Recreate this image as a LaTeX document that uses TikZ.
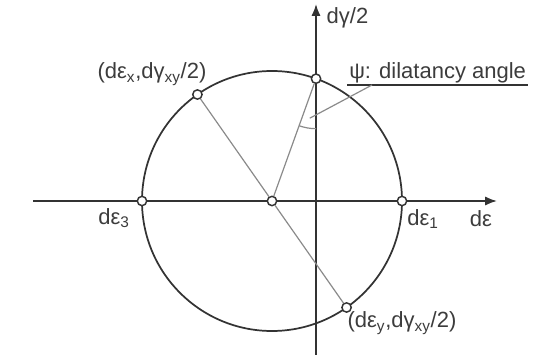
\documentclass[tikz,border=0pt]{standalone}
\usepackage{fontspec}
\setmainfont{Liberation Sans}
\usetikzlibrary{arrows.meta,calc}
\definecolor{axis}{HTML}{333333}
\definecolor{txt}{HTML}{3C3C3C}
\definecolor{ray}{HTML}{8A8A8A}
\tikzset{
  pt/.style={circle,draw=axis,fill=white,line width=1.1pt,inner sep=0pt,minimum size=7pt},
  lbl/.style={text=txt,font=\fontsize{16.5}{19}\selectfont},
}

\begin{document}
\begin{tikzpicture}[x=0.75pt,y=0.75pt,>={Latex[length=9pt,width=7pt]}]
\useasboundingbox (0,0) rectangle (547,361);
\coordinate (c) at (272,160);
\coordinate (xl) at (33,160);
\coordinate (xr) at (497,160);
\coordinate (yb) at (316,6);
\coordinate (yt) at (316,357);
\coordinate (tc) at ($(c)+(70.2:130)$);
\draw[->, axis, line width=1.4pt] (xl) -- (xr);
\draw[->, axis, line width=1.4pt] (yb) -- (yt);
\draw[axis, line width=1.3pt] (c) circle[radius=130];
\node[pt] (e1) at ($(c)+(0:130)$) {};
\node[pt] (e3) at ($(c)+(180:130)$) {};
\node[pt] (ex) at ($(c)+(125:130)$) {};
\node[pt] (ey) at ($(c)+(305:130)$) {};
\node[pt] (t) at (tc) {};
\node[pt] (m) at (c) {};
\draw[ray, line width=0.9pt] (ex) -- (m) -- (ey);
\draw[ray, line width=0.9pt] (m) -- (t);
\draw[ray, line width=0.9pt] ($(tc)+(270:50)$) arc[start angle=270, end angle=250.2, radius=50];
\coordinate (ang) at ($(tc)+(261:40)$);
\node[lbl, anchor=west] (ylab) at (322,343) {dγ/2};
\node[lbl] (xlab) at (481,142) {dε};
\node[lbl] (l1) at (423,142) {dε\textsubscript{1}};
\node[lbl] (l3) at (114,143) {dε\textsubscript{3}};
\node[lbl] (lx) at (152,287) {(dε\textsubscript{x},dγ\textsubscript{xy}/2)};
\node[lbl] (ly) at (402,38) {(dε\textsubscript{y},dγ\textsubscript{xy}/2)};
\node[lbl, anchor=south west, inner sep=1.5pt] (psi) at (347,276) {ψ: dilatancy angle};
\coordinate (foot) at ($(psi.south west)+(25,0)$);
\draw[axis, line width=1.4pt] (psi.south west) -- (psi.south east);
\draw[ray, line width=0.9pt] (foot) -- (ang);
\end{tikzpicture}
\end{document}
